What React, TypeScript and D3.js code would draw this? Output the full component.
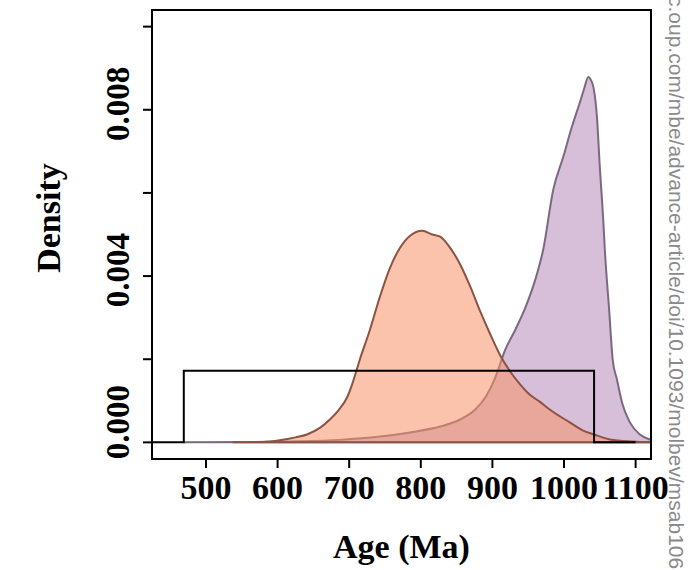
import React from 'react';
import * as d3 from 'd3';

// posterior (purple) density
const purpleAge = [469, 561, 631, 687, 743, 785, 827, 855, 876, 890, 904, 918, 932, 946, 960, 971, 985, 999, 1011, 1022, 1028, 1034, 1038, 1041, 1046, 1050, 1055, 1057, 1063, 1068, 1074, 1081, 1092, 1106, 1120, 1134];
const purpleDens = [0, 0.000007, 0.000024, 0.00006, 0.00014, 0.00024, 0.00038, 0.00055, 0.00079, 0.00108, 0.00156, 0.00223, 0.00271, 0.00324, 0.00392, 0.00464, 0.00608, 0.00687, 0.00759, 0.00817, 0.0085, 0.00879, 0.0087, 0.00855, 0.00783, 0.00663, 0.00529, 0.00464, 0.0032, 0.00199, 0.00151, 0.00096, 0.00048, 0.00019, 0.00007, 0];

// second (salmon) density
const redAge = [538, 580, 603, 625, 641, 660, 673, 685, 697, 704, 715, 729, 743, 757, 771, 785, 802, 816, 827, 841, 855, 869, 883, 897, 911, 925, 939, 952, 966, 980, 1008, 1026, 1042, 1064, 1096, 1125];
const redDens = [0, 0.00001, 0.00005, 0.00012, 0.00019, 0.00036, 0.00055, 0.00077, 0.00108, 0.00139, 0.002, 0.00271, 0.00351, 0.0042, 0.00468, 0.00497, 0.00509, 0.005, 0.00495, 0.00468, 0.00428, 0.00375, 0.00315, 0.0026, 0.00209, 0.0017, 0.00139, 0.00115, 0.00098, 0.00079, 0.00048, 0.00029, 0.00019, 0.00007, 0.00002, 0];

// uniform prior
const priorAge = [424, 469, 469, 1042, 1042, 1100];
const priorDens = [0, 0, 0.00172, 0.00172, 0, 0];

const xTicks = [500, 600, 700, 800, 900, 1000, 1100];
const yTicks = [0, 0.002, 0.004, 0.006, 0.008, 0.01];
const yLabelTicks = [0, 0.004, 0.008];
const yLabels = ['0.000', '0.004', '0.008'];

const watermark = 'c.oup.com/mbe/advance-article/doi/10.1093/molbev/msab106';

const W = 688;
const H = 570;
const box = { left: 152, right: 651, top: 10, bottom: 459 };
const serif = '"Liberation Serif", "Times New Roman", serif';

export default function App() {
  const x = d3.scaleLinear().domain([424.6, 1121.5]).range([box.left, box.right]);
  const y = d3.scaleLinear().domain([-0.0004, 0.0104]).range([box.bottom, box.top]);

  const mkArea = (ages: number[], dens: number[]) =>
    d3.area<number>()
      .x(i => x(ages[i]))
      .y0(y(0))
      .y1(i => y(dens[i]))
      .curve(d3.curveMonotoneX)(d3.range(ages.length)) || '';

  const priorLine = d3.line<number>()
    .x(i => x(priorAge[i]))
    .y(i => y(priorDens[i]))(d3.range(priorAge.length)) || '';

  // rotated labels are kept inside the box height
  const halfLabel = 37;
  const labelY = (t: number) => Math.min(y(t) - 6, box.bottom - halfLabel);

  return (
    <svg width={W} height={H} style={{ position: 'absolute', left: 0, top: 0, background: '#fff' }}>
      <defs>
        <clipPath id="plotclip">
          <rect x={box.left} y={box.top} width={box.right - box.left} height={box.bottom - box.top} />
        </clipPath>
      </defs>
      <g clipPath="url(#plotclip)">
        <path d={mkArea(purpleAge, purpleDens)} fill="#d7bed9" stroke="#7b6a7f" strokeWidth={2} strokeLinejoin="round" />
        <path d={mkArea(redAge, redDens)} fill="rgba(247,146,104,0.55)" stroke="#8c5242" strokeWidth={2} strokeLinejoin="round" />
        <path d={priorLine} fill="none" stroke="#000" strokeWidth={2} />
      </g>

      <rect x={box.left} y={box.top} width={box.right - box.left} height={box.bottom - box.top} fill="none" stroke="#000" strokeWidth={2} />

      {xTicks.map(t => (
        <g key={t}>
          <line x1={x(t)} x2={x(t)} y1={box.bottom} y2={box.bottom + 9} stroke="#000" strokeWidth={2} />
          <text x={x(t)} y={499} textAnchor="middle" fontFamily={serif} fontWeight="bold" fontSize={34}>{t}</text>
        </g>
      ))}

      {yTicks.map(t => (
        <line key={t} x1={box.left - 9} x2={box.left} y1={y(t)} y2={y(t)} stroke="#000" strokeWidth={2} />
      ))}
      {yLabelTicks.map((t, i) => (
        <text key={t} transform={`translate(129,${labelY(t)}) rotate(-90)`} textAnchor="middle" fontFamily={serif} fontWeight="bold" fontSize={33}>{yLabels[i]}</text>
      ))}

      <text x={(box.left + box.right) / 2} y={558} textAnchor="middle" fontFamily={serif} fontWeight="bold" fontSize={34}>Age (Ma)</text>
      <text transform="translate(60,218) rotate(-90)" textAnchor="middle" fontFamily={serif} fontWeight="bold" fontSize={34}>Density</text>

      <text transform="translate(669,-4) rotate(90)" fontFamily='"Liberation Sans", Arial, sans-serif' fontSize={21} fill="#8a8a8a">{watermark}</text>
    </svg>
  );
}
